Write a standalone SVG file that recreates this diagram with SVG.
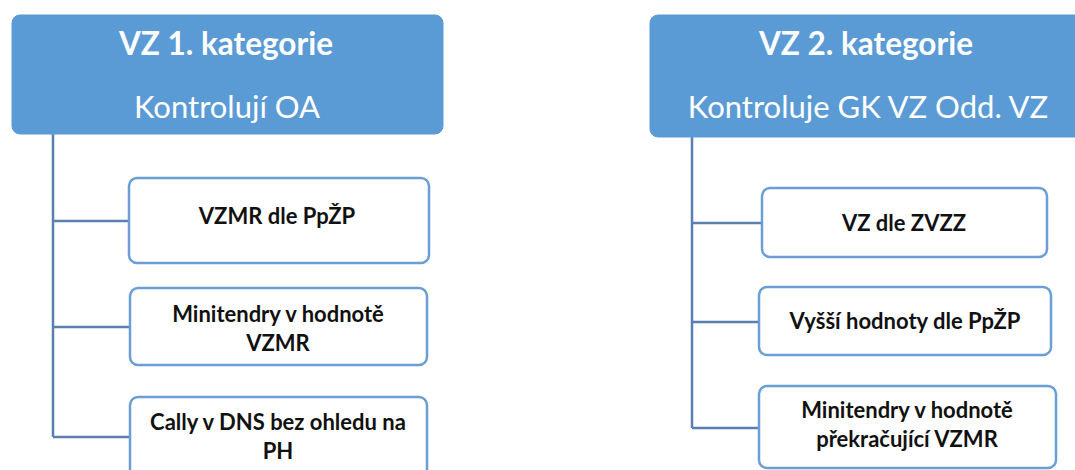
<svg xmlns="http://www.w3.org/2000/svg" width="1075" height="470" viewBox="0 0 1075 470">
  <style>
    .head { fill: #5b9bd5; stroke: #5b9bd5; stroke-width: 1; }
    .item { fill: #ffffff; stroke: #6a9fd6; stroke-width: 2.5; }
    .link { fill: none; stroke: #5a7fb0; stroke-width: 2.5; }
    .title { font-family: Lato, "Open Sans", sans-serif; font-weight: bold; font-size: 31.5px; fill: #ffffff; text-anchor: middle; }
    .sub { font-family: Lato, "Open Sans", sans-serif; font-size: 31px; fill: #ffffff; text-anchor: middle; }
    .lbl { font-family: Lato, "Open Sans", sans-serif; font-weight: bold; font-size: 22px; fill: #111111; text-anchor: middle; }
  </style>
  <rect width="1075" height="470" fill="#ffffff"/>

  <!-- connectors -->
  <g id="connectors">
    <path class="link" d="M53,134 V437 M53,221 H129 M53,327 H130 M53,437 H130"/>
    <path class="link" d="M692,137 V428 M692,223 H762 M692,322 H759 M692,428 H759"/>
  </g>

  <!-- category 1 -->
  <g id="cat1">
    <rect class="head" x="12" y="15" width="431" height="119" rx="8"/>
    <text class="title" x="226" y="55">VZ 1. kategorie</text>
    <text class="sub" x="227" y="118">Kontrolují OA</text>
  </g>
  <g id="cat1-item1">
    <rect class="item" x="129" y="178" width="300" height="85" rx="8"/>
    <text class="lbl" x="277" y="224">VZMR dle PpŽP</text>
  </g>
  <g id="cat1-item2">
    <rect class="item" x="130" y="288" width="297" height="77" rx="8"/>
    <text class="lbl" x="278" y="322">Minitendry v hodnotě</text>
    <text class="lbl" x="278" y="351">VZMR</text>
  </g>
  <g id="cat1-item3">
    <rect class="item" x="130" y="397" width="297" height="90" rx="8"/>
    <text class="lbl" x="278" y="430">Cally v DNS bez ohledu na</text>
    <text class="lbl" x="278" y="459">PH</text>
  </g>

  <!-- category 2 -->
  <g id="cat2">
    <rect class="head" x="650" y="15" width="440" height="122" rx="8"/>
    <text class="title" x="866" y="55">VZ 2. kategorie</text>
    <text class="sub" x="868" y="118">Kontroluje GK VZ Odd. VZ</text>
  </g>
  <g id="cat2-item1">
    <rect class="item" x="762" y="188" width="285" height="69" rx="8"/>
    <text class="lbl" x="904" y="231">VZ dle ZVZZ</text>
  </g>
  <g id="cat2-item2">
    <rect class="item" x="759" y="287" width="292" height="68" rx="8"/>
    <text class="lbl" x="905" y="329">Vyšší hodnoty dle PpŽP</text>
  </g>
  <g id="cat2-item3">
    <rect class="item" x="759" y="386" width="297" height="82" rx="8"/>
    <text class="lbl" x="907" y="418">Minitendry v hodnotě</text>
    <text class="lbl" x="907" y="447">překračující VZMR</text>
  </g>
</svg>
